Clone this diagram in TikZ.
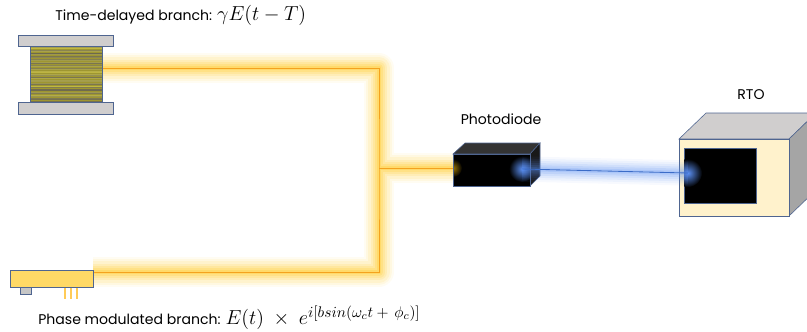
\documentclass[tikz,border=0pt]{standalone}
\usepackage{fontspec}
\setmainfont{Poppins}
\usepackage{tikz}

\definecolor{fibreglow}{HTML}{FFC000}
\definecolor{fibrecore}{HTML}{F4A21E}
\definecolor{beamglow}{HTML}{5A8EF0}
\definecolor{beamcore}{HTML}{3B6CC8}
\definecolor{edge}{HTML}{4F6590}
\definecolor{flange}{HTML}{D0CECE}
\definecolor{coilbase}{HTML}{9E9630}
\definecolor{modbody}{HTML}{FFD966}
\definecolor{cream}{HTML}{FFF2CC}
\definecolor{sidegrey}{HTML}{A5A5A5}

\newcommand\mathbig[1]{{\fontsize{13.5}{15}\selectfont$#1$}}
\newcommand\expo[1]{\mbox{\fontsize{11}{12}\selectfont$#1$}}

\begin{document}
\begin{tikzpicture}[x=0.025cm,y=-0.025cm,
    every node/.style={inner sep=0pt,font=\fontsize{10}{12}\selectfont},
    part/.style={draw=edge,line width=0.4pt},
    glowline/.style={line width=#1,line join=round}]
\useasboundingbox (0,0) rectangle (807,331);

% points where fibre and beam start and end
\coordinate (coil) at (102,68);
\coordinate (mod) at (93,272);
\coordinate (tee) at (379,168);
\coordinate (pd) at (453,168);
\coordinate (pdout) at (522,169);
\coordinate (screen) at (688,173);

% fibre: soft glow first, thin core on top
\foreach \w/\o in {21/0.05,18/0.07,15/0.09,12/0.11,9/0.13,6/0.16,3.5/0.2}
  \draw[fibreglow,opacity=\o,glowline=\w pt] (coil) -| (tee) |- (mod) (tee) -- (pd);
\draw[fibrecore,line width=0.6pt] (coil) -| (tee) |- (mod) (tee) -- (pd);

% fibre spool
\draw[part,fill=flange] (18,35) rectangle (113,46);
\draw[part,fill=flange] (18,102) rectangle (113,114);
\fill[coilbase] (30,46) rectangle (102,102);
\pgfmathsetseed{11}
\foreach \i in {0,...,36}{
  \pgfmathsetmacro\t{20+60*rnd}
  \pgfmathsetmacro\yy{47+1.5*\i}
  \draw[yellow!\t!black!70!coilbase,line width=0.5pt] (30,\yy) -- (102,\yy);
}
\draw[part] (30,46) rectangle (102,102);

% phase modulator
\draw[part,fill=gray!45] (20,287) rectangle (31,294);
\draw[part,fill=modbody] (10,270) rectangle (93,287);
\foreach \x in {65,71,77}
  \draw[modbody!85!orange,line width=1pt] (\x,288) -- (\x,299);

% photodiode
\draw[part,fill=black!80] (453,154) -- (465,143) -- (540,143) -- (530,154) -- cycle;
\draw[part,fill=black!90] (530,154) -- (540,143) -- (540,176) -- (530,186) -- cycle;
\draw[part,fill=black] (453,154) rectangle (530,186);
\begin{scope}
  \clip (453,154) rectangle (530,186);
  \shade[inner color=fibreglow!60!black,outer color=black] (pd) circle (9);
  \shade[inner color=beamglow,outer color=black] (pdout) circle (13);
\end{scope}
\draw[part] (453,154) rectangle (530,186);

% oscilloscope
\draw[part,fill=flange] (679,139) -- (706,113) -- (816,113) -- (789,139) -- cycle;
\draw[part,fill=sidegrey] (789,139) -- (816,113) -- (816,190) -- (789,216) -- cycle;
\draw[part,fill=cream] (679,139) rectangle (789,216);
\draw[part,fill=black] (684,148) rectangle (756,203);
\begin{scope}
  \clip (684,148) rectangle (756,203);
  \shade[inner color=beamglow,outer color=black] (screen) circle (14);
\end{scope}

% light beam into the scope
\foreach \w/\o in {18/0.05,15/0.07,12/0.09,9/0.11,6/0.14,3/0.18}
  \draw[beamglow,opacity=\o,glowline=\w pt] (pdout) -- (screen);
\draw[beamcore,line width=0.6pt] (pdout) -- (screen);

% labels
\node[anchor=west] (tdlabel) at (55,15) {Time-delayed branch: \mathbig{\gamma E(t-T)}};
\node[anchor=west] (pmlabel) at (38,318)
  {Phase modulated branch: \mathbig{E(t)\ \times\ e^{\expo{i[b sin(\omega_c t+\,\phi_c)]}}}};
\node (pdlabel) at (501,119) {Photodiode};
\node (rtolabel) at (751,95) {RTO};
\end{tikzpicture}
\end{document}
